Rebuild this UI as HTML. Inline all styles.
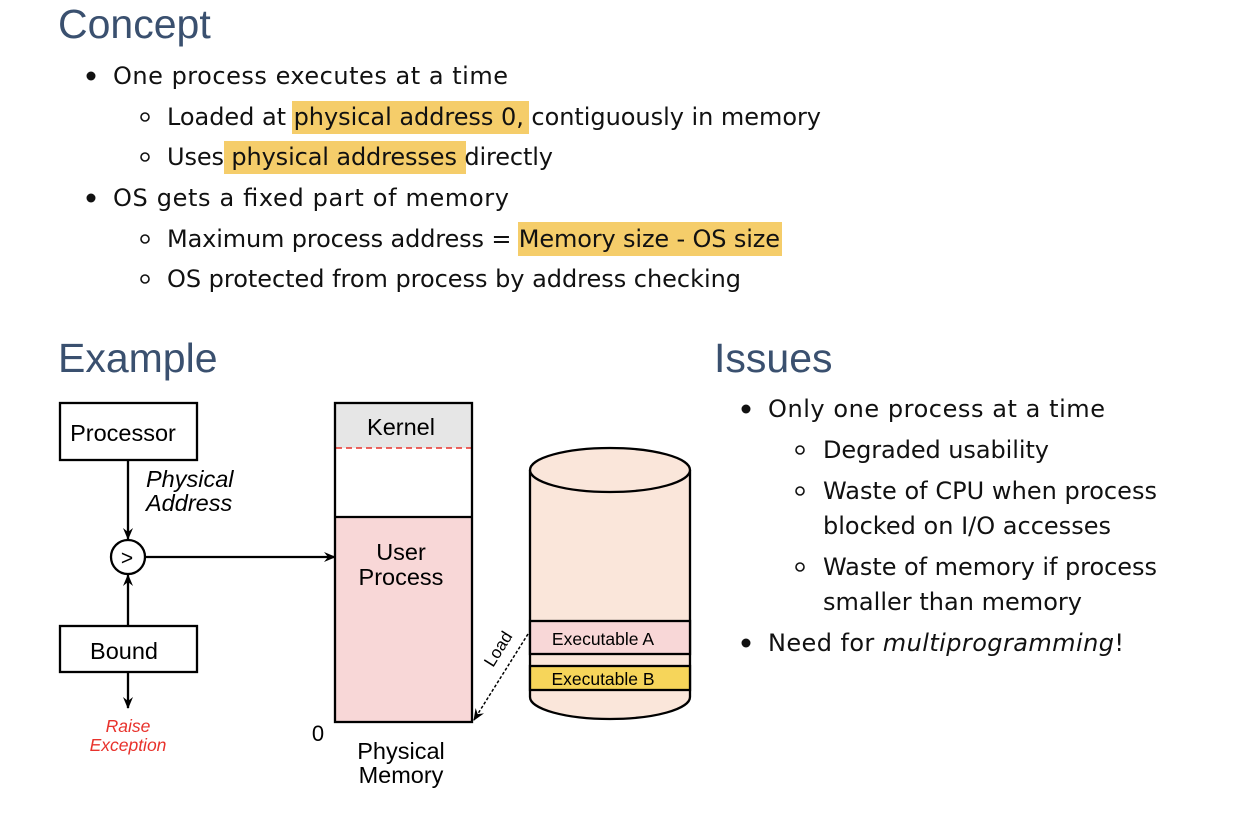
<!DOCTYPE html>
<html><head><style>
body{margin:0;width:1246px;height:822px;background:#fff;overflow:hidden}
svg{position:absolute;left:0;top:0}
</style></head><body>
<svg width="1246" height="822" xmlns="http://www.w3.org/2000/svg">
<defs><marker id="a" markerWidth="12" markerHeight="10" refX="11" refY="5" orient="auto" markerUnits="userSpaceOnUse"><path d="M0,0 L12,5 L0,10 L4,5 Z" fill="#000"/></marker></defs>
<rect x="292" y="101" width="237" height="33" fill="#f5cd6a"/>
<rect x="224" y="141" width="242" height="33" fill="#f5cd6a"/>
<rect x="518" y="222" width="264" height="34" fill="#f5cd6a"/>
<g font-family="Liberation Sans, DejaVu Sans, sans-serif" fill="#3a506f" font-size="41">
<text x="58" y="38">Concept</text>
<text x="58" y="372">Example</text>
<text x="714" y="372">Issues</text>
</g>
<g font-family="DejaVu Sans, Liberation Sans, sans-serif" font-size="24" fill="#111" lengthAdjust="spacingAndGlyphs">
<circle cx="91" cy="76" r="4.5" fill="#111"/><text x="113" y="84" textLength="395">One process executes at a time</text>
<circle cx="145" cy="117" r="4" fill="none" stroke="#111" stroke-width="1.6"/><text x="167" y="125" textLength="654">Loaded at physical address 0, contiguously in memory</text>
<circle cx="145" cy="157" r="4" fill="none" stroke="#111" stroke-width="1.6"/><text x="167" y="165" textLength="386">Uses physical addresses directly</text>
<circle cx="91" cy="198" r="4.5" fill="#111"/><text x="113" y="206" textLength="396">OS gets a fixed part of memory</text>
<circle cx="145" cy="239" r="4" fill="none" stroke="#111" stroke-width="1.6"/><text x="167" y="247" textLength="613">Maximum process address = Memory size - OS size</text>
<circle cx="145" cy="279" r="4" fill="none" stroke="#111" stroke-width="1.6"/><text x="167" y="287" textLength="574">OS protected from process by address checking</text>
<circle cx="746" cy="409" r="4.5" fill="#111"/><text x="768" y="417" textLength="337">Only one process at a time</text>
<circle cx="800" cy="450" r="4" fill="none" stroke="#111" stroke-width="1.6"/><text x="823" y="458" textLength="226">Degraded usability</text>
<circle cx="800" cy="491" r="4" fill="none" stroke="#111" stroke-width="1.6"/><text x="823" y="499" textLength="334">Waste of CPU when process</text>
<text x="823" y="534" textLength="288">blocked on I/O accesses</text>
<circle cx="800" cy="567" r="4" fill="none" stroke="#111" stroke-width="1.6"/><text x="823" y="575" textLength="334">Waste of memory if process</text>
<text x="823" y="610" textLength="259">smaller than memory</text>
<circle cx="746" cy="643" r="4.5" fill="#111"/><text x="768" y="651" textLength="356">Need for <tspan font-style="italic">multiprogramming</tspan>!</text>
</g>
<g stroke="#000" stroke-width="2.3" fill="none">
<rect x="60" y="403" width="137" height="57" fill="#fff"/>
<rect x="60" y="626" width="137" height="46" fill="#fff"/>
<line x1="128" y1="460" x2="128" y2="539" marker-end="url(#a)"/>
<line x1="128" y1="626" x2="128" y2="575" marker-end="url(#a)"/>
<line x1="128" y1="672" x2="128" y2="708" marker-end="url(#a)"/>
<circle cx="128" cy="557" r="17" fill="#fff"/>
<line x1="146" y1="557" x2="335" y2="557" marker-end="url(#a)"/>
<rect x="335" y="403" width="137" height="45" fill="#e6e6e6" stroke="none"/>
<rect x="335" y="517" width="137" height="205" fill="#f8d7d7" stroke="none"/>
<line x1="336" y1="448" x2="471" y2="448" stroke="#e8322c" stroke-dasharray="6,4" stroke-width="1.5"/>
<rect x="335" y="403" width="137" height="319"/>
<line x1="335" y1="517" x2="472" y2="517"/>
<path d="M530,470 L530,697 A80,22 0 0 0 690,697 L690,470" fill="#fae6da"/>
<ellipse cx="610" cy="470" rx="80" ry="22" fill="#fae6da"/>
<rect x="530" y="621" width="160" height="33" fill="#f8d7d7"/>
<rect x="530" y="666" width="160" height="24" fill="#f6d55a"/>
<line x1="528" y1="634" x2="474" y2="720" stroke-dasharray="3,2" stroke-width="1.5" marker-end="url(#a)"/>
</g>
<g font-family="Liberation Sans, Arial, sans-serif" fill="#000">
<text x="123" y="441" font-size="23.5" text-anchor="middle">Processor</text>
<text x="124" y="659" font-size="23.5" text-anchor="middle">Bound</text>
<text x="127" y="565" font-size="21" text-anchor="middle">&gt;</text>
<text x="146" y="487" font-size="23.5" font-style="italic">Physical</text>
<text x="146" y="511" font-size="23.5" font-style="italic">Address</text>
<text x="128" y="732" font-size="17.5" font-style="italic" fill="#e8322c" text-anchor="middle">Raise</text>
<text x="128" y="751" font-size="17.5" font-style="italic" fill="#e8322c" text-anchor="middle">Exception</text>
<text x="401" y="435" font-size="23.5" text-anchor="middle">Kernel</text>
<text x="401" y="560" font-size="23.5" text-anchor="middle">User</text>
<text x="401" y="585" font-size="23.5" text-anchor="middle">Process</text>
<text x="318" y="741" font-size="22" text-anchor="middle">0</text>
<text x="401" y="759" font-size="23.5" text-anchor="middle">Physical</text>
<text x="401" y="783" font-size="23.5" text-anchor="middle">Memory</text>
<text x="603" y="645" font-size="17.5" text-anchor="middle">Executable A</text>
<text x="603" y="685" font-size="17.5" text-anchor="middle">Executable B</text>
<text x="0" y="0" font-size="17" transform="translate(493,668) rotate(-58)">Load</text>
</g>
</svg>
</body></html>
